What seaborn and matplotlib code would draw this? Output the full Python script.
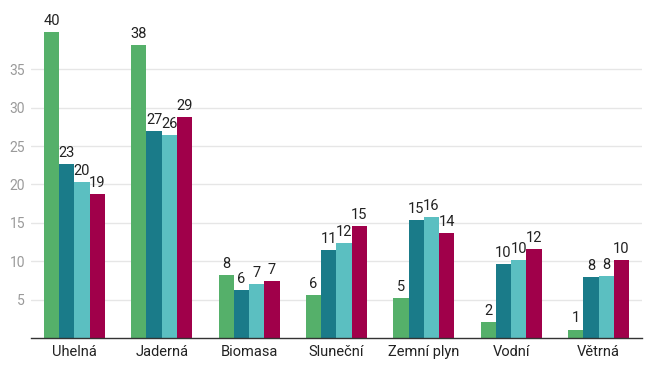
import matplotlib
matplotlib.use("Agg")
import matplotlib.pyplot as plt
import pandas as pd
import seaborn as sns

categories = ["Uhelná", "Jaderná", "Biomasa", "Sluneční", "Zemní plyn", "Vodní", "Větrná"]
series_names = ["Série 1", "Série 2", "Série 3", "Série 4"]
series_1 = [39.8, 38.2, 8.15, 5.6, 5.15, 2.1, 1.1]
series_2 = [22.7, 27.0, 6.2, 11.4, 15.4, 9.6, 7.9]
series_3 = [20.3, 26.4, 7.0, 12.4, 15.7, 10.2, 8.1]
series_4 = [18.7, 28.8, 7.4, 14.6, 13.7, 11.6, 10.2]
colors = ["#55b06a", "#1a7b89", "#5bbfc1", "#a0004a"]

rows = []
for name, values in zip(series_names, [series_1, series_2, series_3, series_4]):
    for cat, v in zip(categories, values):
        rows.append({"kategorie": cat, "serie": name, "hodnota": v})
df = pd.DataFrame(rows)

sns.set_theme(style="white")
plt.rcParams["font.family"] = ["Roboto", "DejaVu Sans"]

fig = plt.figure(figsize=(6.54, 3.70), dpi=100)
ax = fig.add_axes([0.047, 0.0865, 0.935, 0.83])

sns.barplot(data=df, x="kategorie", y="hodnota", hue="serie", order=categories,
            hue_order=series_names, palette=colors, width=0.7, saturation=1,
            linewidth=0, legend=False, ax=ax)

for container in ax.containers:
    ax.bar_label(container, fmt="%.0f", padding=3, fontsize=10.5, color="#222222", clip_on=False)

ax.set_ylim(0, 40)
ax.set_xlim(-0.5, 6.5)
ax.set_yticks([5, 10, 15, 20, 25, 30, 35])
ax.yaxis.grid(True, color="#e6e6e6", linewidth=1)
ax.set_axisbelow(True)
ax.set_xlabel("")
ax.set_ylabel("")
ax.tick_params(axis="y", labelsize=10, labelcolor="#9a9a9a", length=0, pad=4)
ax.tick_params(axis="x", labelsize=10.5, labelcolor="#222222", length=0, pad=5)
for side in ["top", "right", "left"]:
    ax.spines[side].set_visible(False)
ax.spines["bottom"].set_color("#333333")
ax.spines["bottom"].set_linewidth(1)

fig.savefig("out.png", dpi=100)
